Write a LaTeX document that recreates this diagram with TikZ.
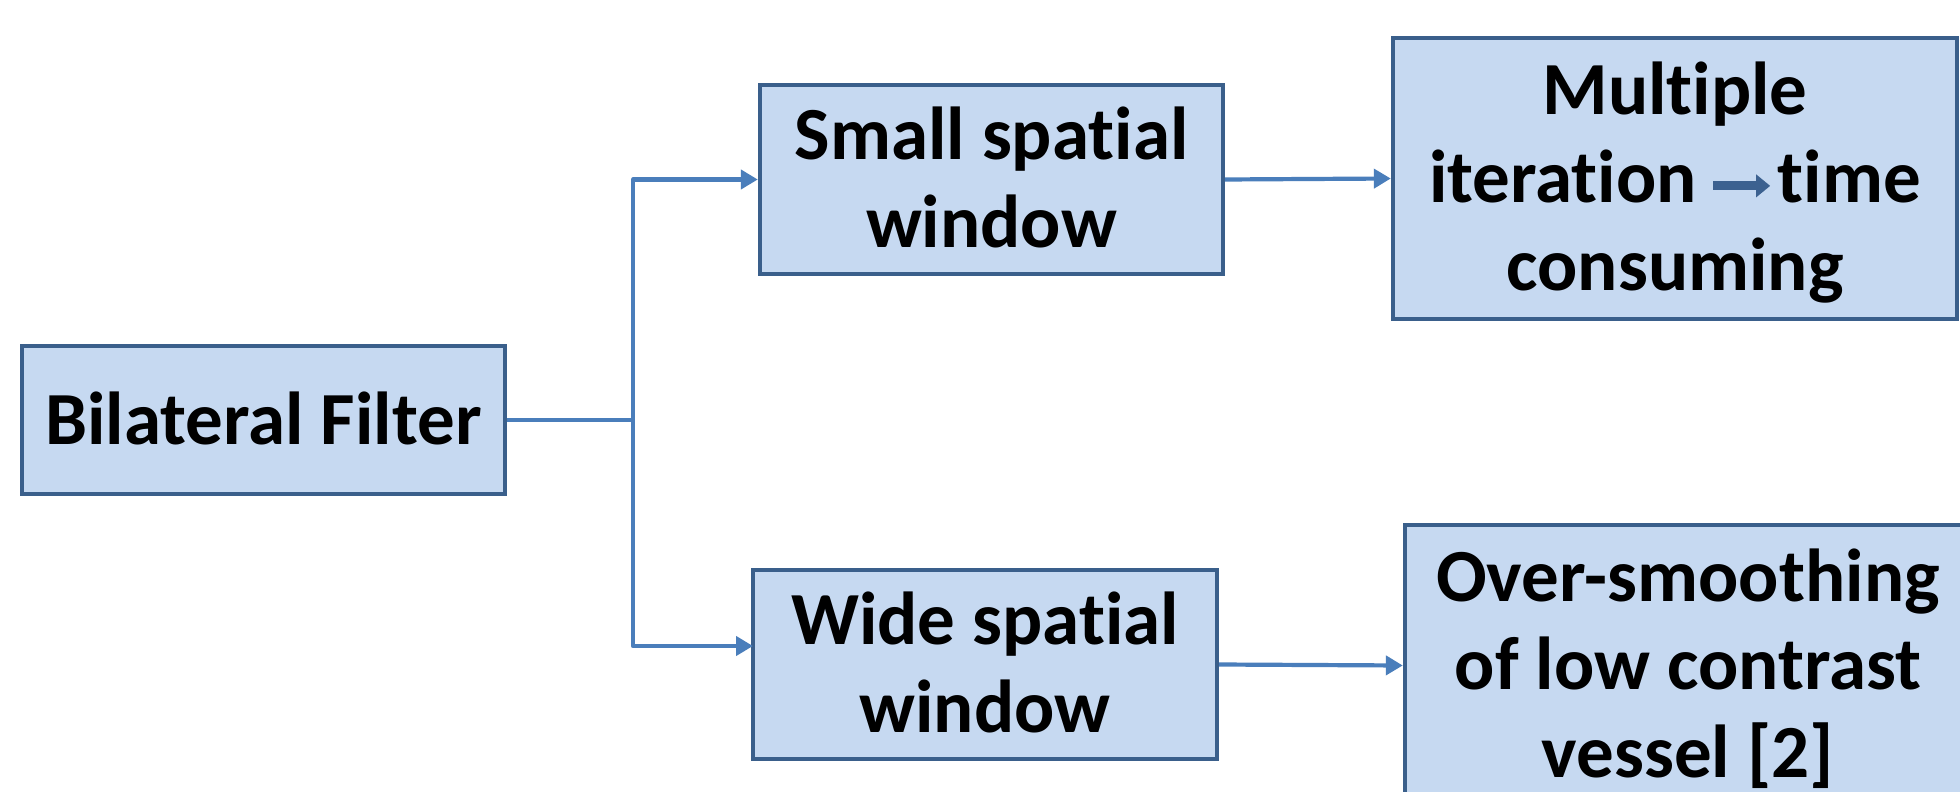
\documentclass[tikz,border=0pt]{standalone}
\usepackage{fontspec}
\setmainfont[Ligatures={NoCommon,NoContextual}, RawFeature={-liga;-clig;-calt;-dlig}]{Carlito}
\usetikzlibrary{arrows.meta}

\definecolor{boxfill}{HTML}{C6D9F1}
\definecolor{boxline}{HTML}{3A5F8B}
\definecolor{linkblue}{HTML}{4A7EBB}
\definecolor{inarrowblue}{HTML}{3C6190}

% fixed line extent (0.9em above, 0.25em below the baseline)
\newcommand{\ls}{\rule[-0.25em]{0pt}{1.15em}}

% thick arrow used inside a label
\newcommand{\inlinearrow}{\tikz[baseline=0pt]{\draw[inarrowblue, line width=4.5pt,
  -{Triangle[length=7pt,width=11pt]}] (0pt,8.5pt) -- (28.5pt,8.5pt);}}

\tikzset{
  procbox/.style={draw=boxline, fill=boxfill, line width=2.2pt, rectangle,
    inner sep=0pt, align=center, text=black,
    font=\fontsize{37.5pt}{44pt}\selectfont\bfseries},
  link/.style={draw=linkblue, line width=2.1pt, line join=round},
  linkarrow/.style={link, -{Triangle[length=8.5pt,width=9.5pt]}}
}

\begin{document}
\begin{tikzpicture}[x=0.5pt, y=-0.5pt]
  \useasboundingbox (0,0) rectangle (1960,792);
  \clip (0,0) rectangle (1960,792);
  \fill[white] (0,0) rectangle (1960,792);

  % boxes
  \node[procbox, minimum width=241.5pt, minimum height=74pt]
    (bf) at (263.5,420) {\ls Bilateral Filter};
  \node[procbox, minimum width=231.5pt, minimum height=94.5pt]
    (ssw) at (991.5,179.5) {\ls Small spa{}tial\\\ls window};
  \node[procbox, minimum width=232pt, minimum height=94.5pt]
    (wsw) at (985,664.5) {\ls Wide spa{}tial\\\ls window};
  \node[procbox, minimum width=282pt, minimum height=140.5pt]
    (mi) at (1675,178.5) {\ls Multiple\\\ls itera{}tion\hspace{6pt}\inlinearrow\hspace{1.5pt}time\\\ls consuming};
  \node[procbox, minimum width=283pt, minimum height=140.5pt]
    (os) at (1688,665.5) {\ls Over-smoothing\\\ls of low contrast\\\ls vessel [2]};

  % branching connector
  \coordinate (split) at (633,420);
  \coordinate (wideIn) at (753,646);
  \draw[link] (bf.east) -- (split);
  \draw[linkarrow] (split) |- (ssw.west);
  \draw[linkarrow] (split) |- (wideIn);

  % outcome connectors
  \draw[linkarrow] (ssw.east) -- (mi.west);
  \draw[linkarrow] (wsw.east) -- (os.west);
\end{tikzpicture}
\end{document}
